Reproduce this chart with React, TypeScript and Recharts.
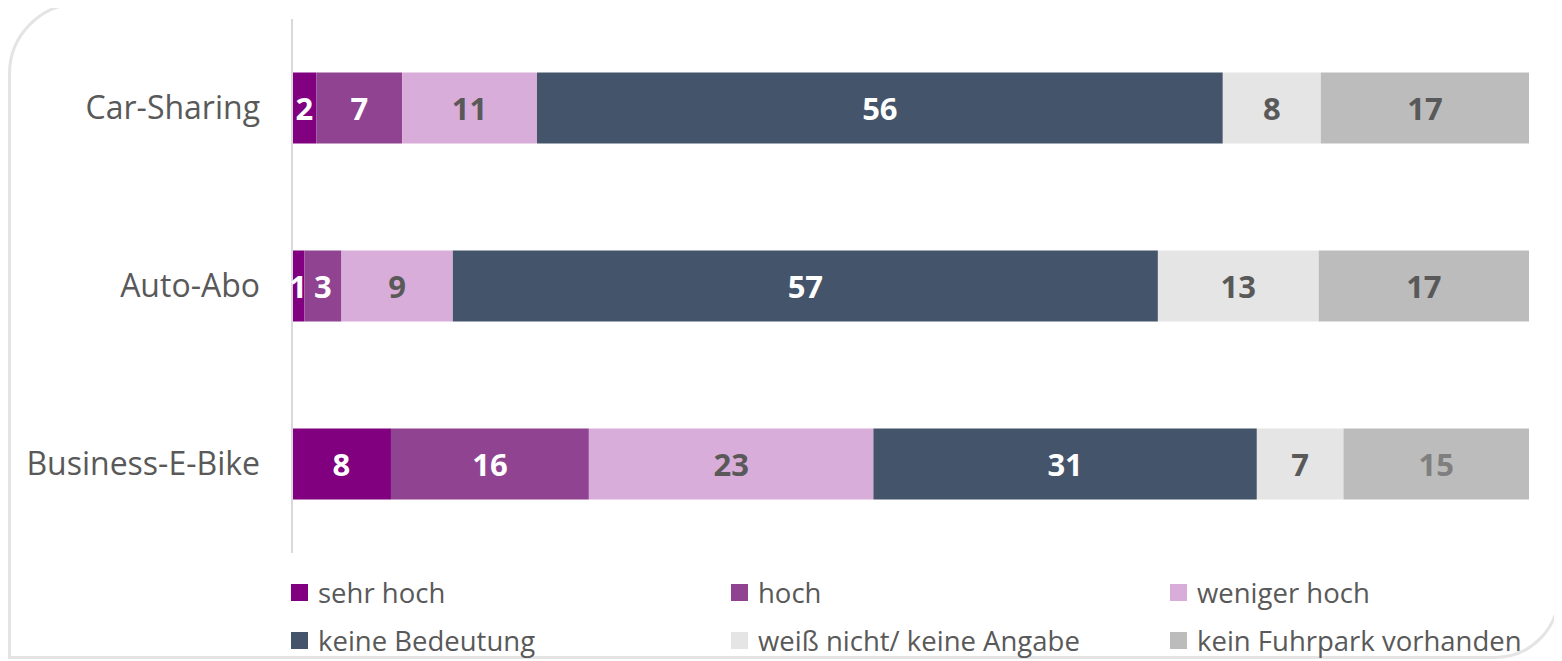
import React from 'react';
import { BarChart, Bar, XAxis, YAxis, LabelList, Legend } from 'recharts';

const categories = ['Car-Sharing', 'Auto-Abo', 'Business-E-Bike'];
const sehrHoch = [2, 1, 8];
const hoch = [7, 3, 16];
const wenigerHoch = [11, 9, 23];
const keineBedeutung = [56, 57, 31];
const weissNicht = [8, 13, 7];
const keinFuhrpark = [17, 17, 15];

const seriesNames = [
  'sehr hoch',
  'hoch',
  'weniger hoch',
  'keine Bedeutung',
  'weiß nicht/ keine Angabe',
  'kein Fuhrpark vorhanden',
];

const seriesKeys = ['s0', 's1', 's2', 's3', 's4', 's5'];
const seriesValues = [sehrHoch, hoch, wenigerHoch, keineBedeutung, weissNicht, keinFuhrpark];

const colors = ['#800080', '#8F4391', '#D9ADD9', '#44546A', '#E5E5E5', '#BCBCBC'];
const labelColors = ['#FFFFFF', '#FFFFFF', '#595959', '#FFFFFF', '#595959', '#595959'];

const data = categories.map((name, i) => {
  const row: Record<string, string | number> = { name };
  seriesKeys.forEach((k, s) => {
    row[k] = seriesValues[s][i];
  });
  return row;
});

const FONT = '"Open Sans", "Noto Sans", sans-serif';

const makeLabel = (s: number) => (props: any) => {
  const { x, y, width, height, value, index } = props;
  let fill = labelColors[s];
  if (s === 5 && index === 2) fill = '#7F7F7F';
  return (
    <text
      x={Number(x) + Number(width) / 2}
      y={Number(y) + Number(height) / 2}
      textAnchor="middle"
      dominantBaseline="central"
      fill={fill}
      fontFamily={FONT}
      fontWeight={700}
      fontSize={31}
    >
      {value}
    </text>
  );
};

const LegendContent = () => {
  const colX = [291, 731, 1170];
  return (
    <div style={{ position: 'relative', width: 1562, height: 100, fontFamily: FONT }}>
      {seriesNames.map((n, i) => {
        const col = i % 3;
        const row = Math.floor(i / 3);
        return (
          <div
            key={n}
            style={{
              position: 'absolute',
              left: colX[col],
              top: 22 + row * 48,
              height: 34,
              display: 'flex',
              alignItems: 'center',
              whiteSpace: 'nowrap',
            }}
          >
            <span style={{ display: 'inline-block', width: 17, height: 17, background: colors[i], marginRight: 10 }} />
            <span style={{ fontSize: 27.5, color: '#595959' }}>{n}</span>
          </div>
        );
      })}
    </div>
  );
};

export default function App() {
  return (
    <div style={{ position: 'relative', width: 1562, height: 661, margin: '-8px 0 0 -8px', background: '#FFFFFF' }}>
      <div
        style={{
          position: 'absolute',
          left: 8,
          top: 2,
          width: 1552,
          height: 657,
          boxSizing: 'border-box',
          border: '3px solid #E4E4E4',
          borderRadius: '72px 0 65px 0',
        }}
      />
      <div style={{ position: 'absolute', left: 0, top: 0 }}>
        <BarChart
          width={1562}
          height={661}
          data={data}
          layout="vertical"
          stackOffset="expand"
          barCategoryGap="30%"
          margin={{ top: 19, right: 33, left: 0, bottom: 8 }}
        >
          <XAxis type="number" hide domain={[0, 1]} />
          <YAxis
            type="category"
            dataKey="name"
            width={292}
            tickLine={false}
            tickSize={0}
            tickMargin={32}
            axisLine={{ stroke: '#D9D9D9', strokeWidth: 2 }}
            tick={{ fill: '#595959', fontSize: 32, fontFamily: FONT }}
          />
          <Legend
            verticalAlign="bottom"
            align="left"
            content={<LegendContent />}
            wrapperStyle={{ left: 0, width: 1562, height: 100 }}
          />
          {seriesKeys.map((k, s) => (
            <Bar key={k} dataKey={k} name={seriesNames[s]} stackId="a" fill={colors[s]} isAnimationActive={false}>
              <LabelList dataKey={k} content={makeLabel(s)} />
            </Bar>
          ))}
        </BarChart>
      </div>
    </div>
  );
}
